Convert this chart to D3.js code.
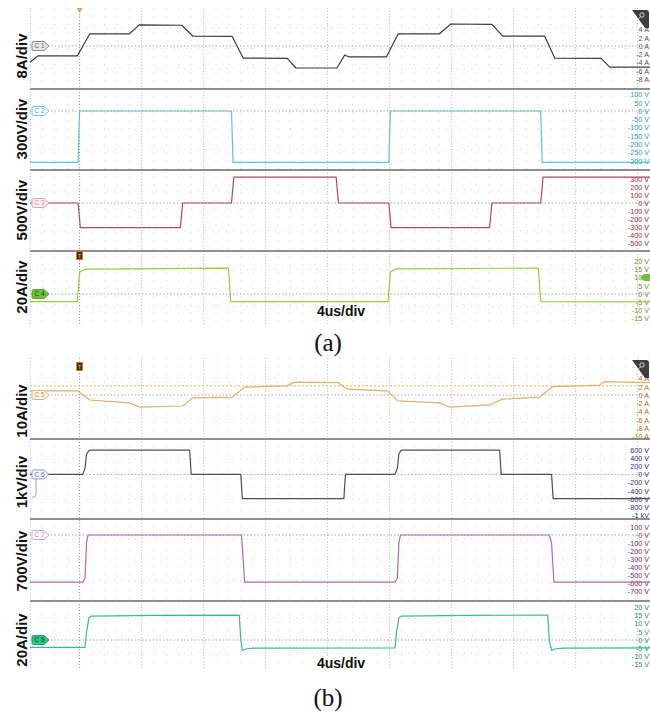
<!DOCTYPE html>
<html><head><meta charset="utf-8">
<script src="https://cdn.jsdelivr.net/npm/d3@7"></script>
<style>body{margin:0;background:#fff}svg{display:block}</style>
</head><body>
<svg id="c" width="650" height="712"></svg>
<script>
// ---------------- DATA ----------------
const timeTicks = [0, 4, 8, 12, 16, 20, 24, 28, 32, 36]; // us (4us/div)
const minorTimeTicks = d3.range(-3.2, 36.81, 0.8);

const scaleLabelsA = ["8A/div", "300V/div", "500V/div", "20A/div"];
const scaleLabelsB = ["10A/div", "1kV/div", "700V/div", "20A/div"];
const timeLabel = "4us/div";
const panelCaptions = ["(a)", "(b)"];
const channelNames = ["C 1", "C 2", "C 3", "C 4", "C 5", "C 6", "C 7", "C 8"];

// channel 1 (A)
const ch1Time = [-3.2, -2.7, -0.15, 0.65, 3.2, 3.85, 6.6, 7.3, 9.85, 10.55, 13.4, 13.95, 16.6, 17.1, 17.35, 19.8, 20.55, 23.2, 23.95, 26.6, 27.3, 30.0, 30.65, 33.65, 34.2, 36.8];
const ch1Val  = [-3.9, -2.4, -2.4, 2.9, 2.9, 5.1, 5.0, 2.4, 2.3, -2.9, -3.0, -5.3, -5.3, -2.2, -2.6, -2.6, 2.9, 2.9, 5.3, 5.2, 2.4, 2.4, -2.9, -3.0, -5.1, -5.1];
// channel 2 (V)
const ch2Time = [-3.2, -0.1, 0.0, 9.8, 9.9, 19.95, 20.05, 29.75, 29.85, 36.8];
const ch2Val  = [-310, -310, 0, 0, -310, -310, 0, 0, -310, -310];
// channel 3 (V)
const ch3Time = [-3.2, -0.1, 0.05, 6.5, 6.65, 9.8, 9.95, 16.55, 16.7, 19.95, 20.1, 26.45, 26.6, 29.75, 29.9, 36.8];
const ch3Val  = [0, 0, -305, -305, 0, 0, 320, 320, 0, 0, -305, -305, 0, 0, 320, 320];
// channel 4 (V)
const ch4Time = [-3.2, -0.15, 0.0, 0.4, 5.0, 9.6, 9.75, 19.9, 20.05, 20.4, 29.6, 29.75, 36.8];
const ch4Val  = [-4.6, -4.7, 13.5, 15.2, 15.5, 15.8, -4.7, -4.7, 13.5, 15.3, 15.8, -4.7, -4.8];
// channel 5 (A)
const ch5Time = [-3.2, -0.13, 0.65, 3.23, 3.87, 6.65, 7.29, 9.87, 10.65, 13.35, 13.87, 16.65, 17.29, 19.87, 20.52, 23.23, 23.87, 26.45, 27.29, 29.68, 30.52, 33.55, 33.87, 36.8];
const ch5Val  = [1.0, 1.0, -1.2, -1.9, -2.9, -2.65, -0.7, -0.5, 1.9, 2.2, 3.1, 3.0, 1.4, 1.0, -1.4, -1.9, -2.9, -2.4, -1.0, -0.5, 2.0, 2.4, 3.2, 3.0];
// channel 6 (V)
const ch6Time = [-3.2, 0.2, 0.35, 0.45, 0.6, 0.75, 7.1, 7.2, 10.4, 10.5, 17.05, 17.15, 20.35, 20.5, 20.6, 20.75, 27.1, 27.2, 30.45, 30.55, 36.8];
const ch6Val  = [0, 0, 150, 500, 580, 595, 590, 0, 0, -590, -590, 0, 0, 150, 500, 595, 590, 0, 0, -590, -590];
// channel 7 (V)
const ch7Time = [-3.2, 0.2, 0.35, 0.45, 0.55, 10.45, 10.55, 10.65, 20.35, 20.5, 20.6, 20.7, 30.3, 30.45, 30.6, 36.8];
const ch7Val  = [-590, -590, -540, -100, 0, 0, -300, -590, -590, -540, -100, 0, 0, -100, -590, -590];
// channel 8 (V)
const ch8Time = [-3.2, 0.35, 0.45, 0.6, 0.75, 5.0, 10.3, 10.4, 10.5, 10.7, 11.2, 20.35, 20.45, 20.6, 20.75, 25.0, 30.2, 30.3, 30.45, 30.65, 31.2, 36.8];
const ch8Val  = [-4.5, -4.5, 5, 13.5, 14.5, 15, 15.2, 0, -6.5, -5.5, -5, -4.8, 5, 13.5, 14.5, 15, 15.2, 0, -6.5, -5.5, -5, -4.8];

// right-side tick values and labels
const ch1TickVals = [4, 2, 0, -2, -4, -6, -8];
const ch1TickLabels = ["4 A", "2 A", "0 A", "-2 A", "-4 A", "-6 A", "-8 A"];
const ch2TickVals = [100, 50, 0, -50, -100, -150, -200, -250, -300];
const ch2TickLabels = ["100 V", "50 V", "0 V", "-50 V", "-100 V", "-150 V", "-200 V", "-250 V", "-300 V"];
const ch3TickVals = [300, 200, 100, 0, -100, -200, -300, -400, -500];
const ch3TickLabels = ["300 V", "200 V", "100 V", "0 V", "-100 V", "-200 V", "-300 V", "-400 V", "-500 V"];
const ch4TickVals = [20, 15, 10, 5, 0, -5, -10, -15];
const ch4TickLabels = ["20 V", "15 V", "10 V", "5 V", "0 V", "-5 V", "-10 V", "-15 V"];
const ch5TickVals = [4, 2, 0, -2, -4, -6, -8, -10];
const ch5TickLabels = ["4 A", "2 A", "0 A", "-2 A", "-4 A", "-6 A", "-8 A", "-10 A"];
const ch6TickVals = [600, 400, 200, 0, -200, -400, -600, -800, -1000];
const ch6TickLabels = ["600 V", "400 V", "200 V", "0 V", "-200 V", "-400 V", "-600 V", "-800 V", "-1 kV"];
const ch7TickVals = [100, 0, -100, -200, -300, -400, -500, -600, -700];
const ch7TickLabels = ["100 V", "0 V", "-100 V", "-200 V", "-300 V", "-400 V", "-500 V", "-600 V", "-700 V"];
const ch8TickVals = [20, 15, 10, 5, 0, -5, -10, -15];
const ch8TickLabels = ["20 V", "15 V", "10 V", "5 V", "0 V", "-5 V", "-10 V", "-15 V"];

// ---------------- LAYOUT ----------------
const svg = d3.select("#c");
const X0 = 30, X1 = 650;
const x = d3.scaleLinear().domain([-3.2, 36.8]).range([X0, X1]);

const panels = [
  { top: 8, bottom: 325, seps: [89, 170, 251], rows: [[8,89],[89,170],[170,251],[251,325]],
    labels: scaleLabelsA, labelY: [56, 129, 210, 287], timeY: 316, capY: 351,
    channels: [
      { t: ch1Time, v: ch1Val, zero: 46, ppu: 8.3/2, color: "#3c3c3c", lab: "#555", tv: ch1TickVals, tl: ch1TickLabels,
        tag: { s: "#8a8a8a", f: "#e6e6e6", tc: "#666" } },
      { t: ch2Time, v: ch2Val, zero: 111, ppu: 8.3/50, color: "#5cc6cf", lab: "#2a9d9d", tv: ch2TickVals, tl: ch2TickLabels,
        tag: { s: "#6cc9d0", f: "#ffffff", tc: "#3aa8b0" } },
      { t: ch3Time, v: ch3Val, zero: 203, ppu: 8.1/100, color: "#ad4a66", lab: "#9a2a44", tv: ch3TickVals, tl: ch3TickLabels,
        tag: { s: "#e7a0b6", f: "#fdeef3", tc: "#e08aa4" } },
      { t: ch4Time, v: ch4Val, zero: 294, ppu: 8.2/5, color: "#9ccc3c", lab: "#6a8f1a", tv: ch4TickVals, tl: ch4TickLabels,
        tag: { s: "#58a82a", f: "#6cc23c", tc: "#1f4a10" } }
    ] },
  { top: 358, bottom: 670, seps: [439, 519, 601], rows: [[358,439],[439,519],[519,601],[601,670]],
    labels: scaleLabelsB, labelY: [411, 482, 561, 640], timeY: 668, capY: 706,
    channels: [
      { t: ch5Time, v: ch5Val, zero: 395, ppu: 8.3/2, color: "#e0b06a", lab: "#b07020", tv: ch5TickVals, tl: ch5TickLabels,
        tag: { s: "#e5b37a", f: "#fff6ea", tc: "#c99050" } },
      { t: ch6Time, v: ch6Val, zero: 474.4, ppu: 8.2/200, color: "#4b5068", lab: "#2b3270", tv: ch6TickVals, tl: ch6TickLabels,
        tag: { s: "#9a9ad8", f: "#f4f4ff", tc: "#6a6ab0" } },
      { t: ch7Time, v: ch7Val, zero: 535, ppu: 8/100, color: "#b46aac", lab: "#7a2a5a", tv: ch7TickVals, tl: ch7TickLabels,
        tag: { s: "#dba0c8", f: "#ffffff", tc: "#c080b0" } },
      { t: ch8Time, v: ch8Val, zero: 640, ppu: 8.2/5, color: "#3bb89a", lab: "#2a8a70", tv: ch8TickVals, tl: ch8TickLabels,
        tag: { s: "#1fa06a", f: "#2fc47f", tc: "#0c4a30" } }
    ] }
];

panels.forEach((p, pi) => {
  const g = svg.append("g");
  // minor vertical dot columns
  g.selectAll(".mv").data(minorTimeTicks).join("line")
    .attr("x1", d => x(d)).attr("x2", d => x(d)).attr("y1", p.top).attr("y2", p.bottom)
    .attr("stroke", "#d8d8d8").attr("stroke-width", 1).attr("stroke-dasharray", "1,7");
  // horizontal faint lines in each row
  p.rows.forEach(r => {
    const h = r[1] - r[0];
    [0.25, 0.75].forEach(f => {
      g.append("line").attr("x1", X0).attr("x2", X1).attr("y1", r[0] + h * f).attr("y2", r[0] + h * f)
        .attr("stroke", "#d6d6d6").attr("stroke-dasharray", "1,6");
    });
    g.append("line").attr("x1", X0).attr("x2", X1).attr("y1", r[0] + h * 0.5).attr("y2", r[0] + h * 0.5)
      .attr("stroke", "#e0e0e0").attr("stroke-dasharray", "1,12");
  });
  // major vertical grid
  g.selectAll(".vg").data(timeTicks).join("line")
    .attr("x1", d => x(d)).attr("x2", d => x(d)).attr("y1", p.top).attr("y2", p.bottom)
    .attr("stroke", d => d === 0 ? "#9a9a9a" : "#c4c4c4").attr("stroke-width", 1).attr("stroke-dasharray", "1,2");
  g.append("line").attr("x1", X0 + 0.5).attr("x2", X0 + 0.5).attr("y1", p.top).attr("y2", p.bottom)
    .attr("stroke", "#cccccc").attr("stroke-dasharray", "1,2");
  // channel zero lines
  p.channels.forEach(c => {
    g.append("line").attr("x1", X0).attr("x2", X1).attr("y1", c.zero).attr("y2", c.zero)
      .attr("stroke", "#a8a8a8").attr("stroke-dasharray", "1.5,2");
  });
  // separators
  p.seps.forEach(s => {
    g.append("line").attr("x1", X0).attr("x2", X1).attr("y1", s).attr("y2", s)
      .attr("stroke", "#8f8f8f").attr("stroke-width", 2);
  });
  // right tick labels
  p.channels.forEach(c => {
    const y = d3.scaleLinear().domain([0, 1]).range([c.zero, c.zero - c.ppu]);
    c.y = y;
    const ax = g.append("g").attr("transform", "translate(649,0)")
      .call(d3.axisLeft(y).tickValues(c.tv).tickFormat((d, i) => c.tl[i]).tickSize(0).tickPadding(0));
    ax.select(".domain").remove();
    ax.selectAll("text").attr("fill", c.lab).attr("font-size", 7.2)
      .attr("font-family", "'Liberation Sans Narrow','Arial Narrow','Liberation Sans',sans-serif");
  });
  // trigger level (panel b, ch5)
  if (pi === 1) {
    const c = p.channels[0];
    g.append("line").attr("x1", X0).attr("x2", X1).attr("y1", c.y(2.2)).attr("y2", c.y(2.2))
      .attr("stroke", "#f0b060").attr("stroke-dasharray", "2,2");
  }
  // traces
  p.channels.forEach(c => {
    const pts = c.t.map((t, i) => [t, c.v[i]]);
    g.append("path").datum(pts)
      .attr("d", d3.line().x(d => x(d[0])).y(d => c.y(d[1])))
      .attr("fill", "none").attr("stroke", c.color).attr("stroke-width", 1.2)
      .attr("stroke-linejoin", "round");
  });
  // channel tags
  p.channels.forEach((c, ci) => {
    const yc = c.zero, x0 = 32;
    g.append("path")
      .attr("d", `M${x0 + 1.5},${yc - 4.5} H${x0 + 12} L${x0 + 17},${yc} L${x0 + 12},${yc + 4.5} H${x0 + 1.5} Q${x0},${yc + 4.5} ${x0},${yc + 3} V${yc - 3} Q${x0},${yc - 4.5} ${x0 + 1.5},${yc - 4.5} Z`)
      .attr("fill", c.tag.f).attr("stroke", c.tag.s).attr("stroke-width", 1);
    g.append("text").attr("x", x0 + 7.5).attr("y", yc + 2.4).attr("text-anchor", "middle")
      .attr("font-size", 6.5).attr("font-family", "'Liberation Sans',Arial,sans-serif")
      .attr("fill", c.tag.tc).text(channelNames[pi * 4 + ci]);
  });
  // C6 hook
  if (pi === 1) {
    const c = p.channels[1];
    g.append("path").attr("d", `M36,${c.zero + 4.5} V${c.zero + 20} Q36,${c.zero + 23} 32,${c.zero + 23}`)
      .attr("fill", "none").attr("stroke", "#9a9ad8").attr("stroke-width", 1);
  }
  // ch4 trigger-level marker
  if (pi === 0) {
    const c = p.channels[3];
    const yy = c.y(10);
    g.append("path").attr("d", `M640,${yy} L644,${yy - 3.5} H650 V${yy + 3.5} H644 Z`).attr("fill", "#6cc23c");
  }
  // top-right icon
  const iy = p.top + 2;
  g.append("path").attr("d", `M632,${iy} H646 Q649,${iy} 649,${iy + 3} V${iy + 18} H645 Z`).attr("fill", "#3e3e3e");
  g.append("circle").attr("cx", 642).attr("cy", iy + 5).attr("r", 2.2).attr("fill", "none").attr("stroke", "#ddd").attr("stroke-width", 0.9);
  g.append("line").attr("x1", 640.5).attr("y1", iy + 6.8).attr("x2", 638.5).attr("y2", iy + 9).attr("stroke", "#ddd").attr("stroke-width", 0.9);
  // trigger markers
  const tx = x(0);
  const tY = pi === 0 ? 251 : 362;
  g.append("rect").attr("x", tx - 3).attr("y", tY + 0.5).attr("width", 6).attr("height", 8)
    .attr("fill", "#4a2e12").attr("stroke", "#c07a30").attr("stroke-width", 0.8);
  g.append("text").attr("x", tx).attr("y", tY + 7).attr("text-anchor", "middle").attr("font-size", 6)
    .attr("font-family", "Arial,sans-serif").attr("fill", "#f0c080").text("T");
  if (pi === 0) {
    g.append("path").attr("d", `M${tx - 3},${p.top} H${tx + 3} L${tx},${p.top + 5} Z`).attr("fill", "#f0a040");
  }
  // left rotated scale labels
  p.labels.forEach((l, i) => {
    g.append("text").attr("transform", `translate(27,${p.labelY[i]}) rotate(-90)`)
      .attr("text-anchor", "middle").attr("font-size", 15).attr("font-weight", "bold")
      .attr("font-family", "'Liberation Sans',Arial,sans-serif").attr("fill", "#111").text(l);
  });
  // time/div label
  g.append("text").attr("x", 341).attr("y", p.timeY).attr("text-anchor", "middle")
    .attr("font-size", 14).attr("font-weight", "bold")
    .attr("font-family", "'Liberation Sans',Arial,sans-serif").attr("fill", "#111").text(timeLabel);
  // caption
  g.append("text").attr("x", 328).attr("y", p.capY).attr("text-anchor", "middle")
    .attr("font-size", 25).attr("font-family", "'Liberation Serif','Times New Roman',serif")
    .attr("fill", "#111").text(panelCaptions[pi]);
});
</script>
</body></html>
